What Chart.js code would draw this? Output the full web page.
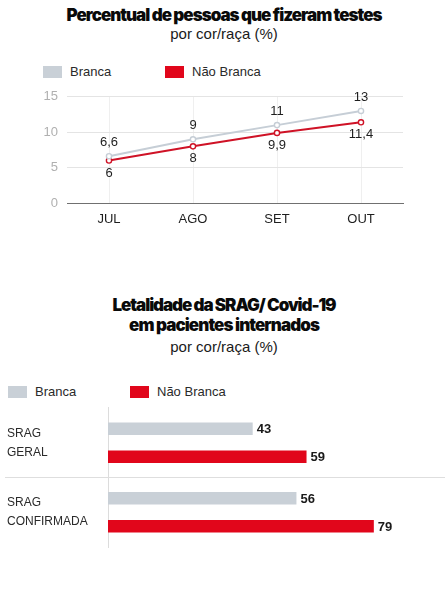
<!DOCTYPE html>
<html>
<head>
<meta charset="utf-8">
<script src="https://cdn.jsdelivr.net/npm/chart.js@4.4.1/dist/chart.umd.min.js"></script>
<style>
  html, body { margin: 0; padding: 0; background: #fff; }
  body { width: 448px; height: 591px; position: relative; overflow: hidden;
         font-family: "Liberation Sans", Arial, sans-serif; color: #111; }
  .line { position: absolute; left: 0; width: 448px; text-align: center; height: 20px; line-height: 20px; white-space: nowrap; }
  .head { font-family: "Inter", "Lato", "Roboto", sans-serif; font-weight: 900; font-size: 17px; color: #0a0a0a; }
  .head span { display: inline-block; }
  .sub { font-size: 15px; color: #1a1a1a; }
  .sw { position: absolute; width: 19px; height: 12px; }
  .lt { position: absolute; font-size: 13px; line-height: 16px; height: 16px; color: #2a2a2a; white-space: nowrap; }
  .box { position: absolute; left: 0; width: 448px; }
</style>
</head>
<body>
<div class="line head" style="top:5px"><span data-w="315">Percentual de pessoas que fizeram testes</span></div>
<div class="line sub" style="top:24px">por cor/raça (%)</div>
<div id="legend1"></div>
<div class="box" style="top:80px;height:160px"><canvas id="testes"></canvas></div>

<div class="line head" style="top:295px"><span data-w="223">Letalidade da SRAG/ Covid-19</span></div>
<div class="line head" style="top:315px"><span data-w="190">em pacientes internados</span></div>
<div class="line sub" style="top:337px">por cor/raça (%)</div>
<div id="legend2"></div>
<div class="box" style="top:386px;height:183px"><canvas id="letalidade"></canvas></div>

<script>
// dados
const seriesNames = ['Branca', 'Não Branca'];
const seriesColors = ['#c9d0d7', '#e1061b'];
const lineColors = ['#c6ced6', '#cf1226'];

const months = ['JUL', 'AGO', 'SET', 'OUT'];
const brancaTestes = [6.6, 9, 11, 13];
const naoBrancaTestes = [6, 8, 9.9, 11.4];
const yTicks = [0, 5, 10, 15];

const grupos = [['SRAG', 'GERAL'], ['SRAG', 'CONFIRMADA']];
const brancaLetalidade = [43, 56];
const naoBrancaLetalidade = [59, 79];

// squeeze the heavy titles to the reference width
document.querySelectorAll('.head span').forEach(el => {
  const target = +el.dataset.w;
  const w = el.getBoundingClientRect().width;
  const n = el.textContent.length;
  el.style.letterSpacing = ((target - w) / n) + 'px';
});

function legend(id, x0, y0) {
  const box = document.getElementById(id);
  const xs = [x0, x0 + 122];
  seriesNames.forEach((name, i) => {
    const sw = document.createElement('div');
    sw.className = 'sw';
    sw.style.left = xs[i] + 'px';
    sw.style.top = y0 + 'px';
    sw.style.background = seriesColors[i];
    const t = document.createElement('div');
    t.className = 'lt';
    t.style.left = (xs[i] + 27) + 'px';
    t.style.top = (y0 - 2) + 'px';
    t.textContent = name;
    box.appendChild(sw);
    box.appendChild(t);
  });
}
legend('legend1', 43, 66);
legend('legend2', 8, 386);

const fmt = v => String(v).replace('.', ',');

const pointLabels = {
  id: 'pointLabels',
  afterDatasetsDraw(chart) {
    const ctx = chart.ctx;
    ctx.save();
    ctx.font = '13px "Liberation Sans", Arial, sans-serif';
    ctx.fillStyle = '#1e1e1e';
    ctx.textAlign = 'center';
    ctx.textBaseline = 'middle';
    chart.data.datasets.forEach((ds, i) => {
      chart.getDatasetMeta(i).data.forEach((p, j) => {
        ctx.fillText(fmt(ds.data[j]), p.x, p.y + ds.labelDy);
      });
    });
    ctx.restore();
  }
};

new Chart(document.getElementById('testes'), {
  type: 'line',
  data: {
    labels: months,
    datasets: [
      { label: seriesNames[0], data: brancaTestes, borderColor: lineColors[0], labelDy: -14 },
      { label: seriesNames[1], data: naoBrancaTestes, borderColor: lineColors[1], labelDy: 12.5 }
    ].map(d => Object.assign(d, {
      borderWidth: 2, tension: 0, fill: false,
      pointRadius: 2.6, pointBorderWidth: 1.4,
      pointBackgroundColor: '#fff', pointBorderColor: d.borderColor
    }))
  },
  options: {
    responsive: true,
    maintainAspectRatio: false,
    animation: false,
    layout: { padding: { top: 15, right: 45, left: 0, bottom: 0 } },
    plugins: { legend: { display: false }, tooltip: { enabled: false } },
    scales: {
      x: {
        offset: true,
        grid: { offset: false, color: '#efefef', drawTicks: false },
        border: { color: '#707070' },
        ticks: { color: '#1e1e1e', padding: 9, font: { size: 13, family: '"Liberation Sans", Arial, sans-serif' } },
        afterFit: s => { s.height = 37; }
      },
      y: {
        min: 0, max: 15,
        afterBuildTicks: s => { s.ticks = yTicks.map(v => ({ value: v })); },
        grid: { drawTicks: false, color: c => c.tick && c.tick.value === 0 ? '#707070' : '#e4e4e4' },
        border: { display: false },
        ticks: { color: '#b0b0b0', padding: 9, font: { size: 13, family: '"Liberation Sans", Arial, sans-serif' } },
        afterFit: s => { s.width = 67; }
      }
    }
  },
  plugins: [pointLabels]
});

const barLabels = {
  id: 'barLabels',
  afterDatasetsDraw(chart) {
    const ctx = chart.ctx;
    ctx.save();
    ctx.font = 'bold 13px "Liberation Sans", Arial, sans-serif';
    ctx.fillStyle = '#1a1a1a';
    ctx.textAlign = 'left';
    ctx.textBaseline = 'middle';
    chart.data.datasets.forEach((ds, i) => {
      chart.getDatasetMeta(i).data.forEach((b, j) => {
        ctx.fillText(String(ds.data[j]), b.x + 4, b.y + 1);
      });
    });
    // separator between the two groups
    const ys = chart.scales.y;
    const yy = Math.round((ys.getPixelForValue(0) + ys.getPixelForValue(1)) / 2) + 0.5;
    ctx.strokeStyle = '#dedede';
    ctx.lineWidth = 1;
    ctx.beginPath();
    ctx.moveTo(5, yy);
    ctx.lineTo(445, yy);
    ctx.stroke();
    ctx.restore();
  }
};

new Chart(document.getElementById('letalidade'), {
  type: 'bar',
  data: {
    labels: grupos,
    datasets: [
      { label: seriesNames[0], data: brancaLetalidade, backgroundColor: seriesColors[0] },
      { label: seriesNames[1], data: naoBrancaLetalidade, backgroundColor: seriesColors[1] }
    ].map(d => Object.assign(d, { barPercentage: 0.45, categoryPercentage: 0.8 }))
  },
  options: {
    indexAxis: 'y',
    responsive: true,
    maintainAspectRatio: false,
    animation: false,
    layout: { padding: { top: 0, right: 3.5, left: 7, bottom: 0 } },
    plugins: { legend: { display: false }, tooltip: { enabled: false } },
    scales: {
      x: { display: false, min: 0, max: 100 },
      y: {
        grid: { display: false },
        border: { color: '#dcdcdc' },
        ticks: {
          crossAlign: 'far', color: '#2a2a2a',
          font: { size: 12, lineHeight: 1.58, family: '"Liberation Sans", Arial, sans-serif' }
        },
        afterFit: s => { s.width = 101; }
      }
    }
  },
  plugins: [barLabels]
});
</script>
</body>
</html>
